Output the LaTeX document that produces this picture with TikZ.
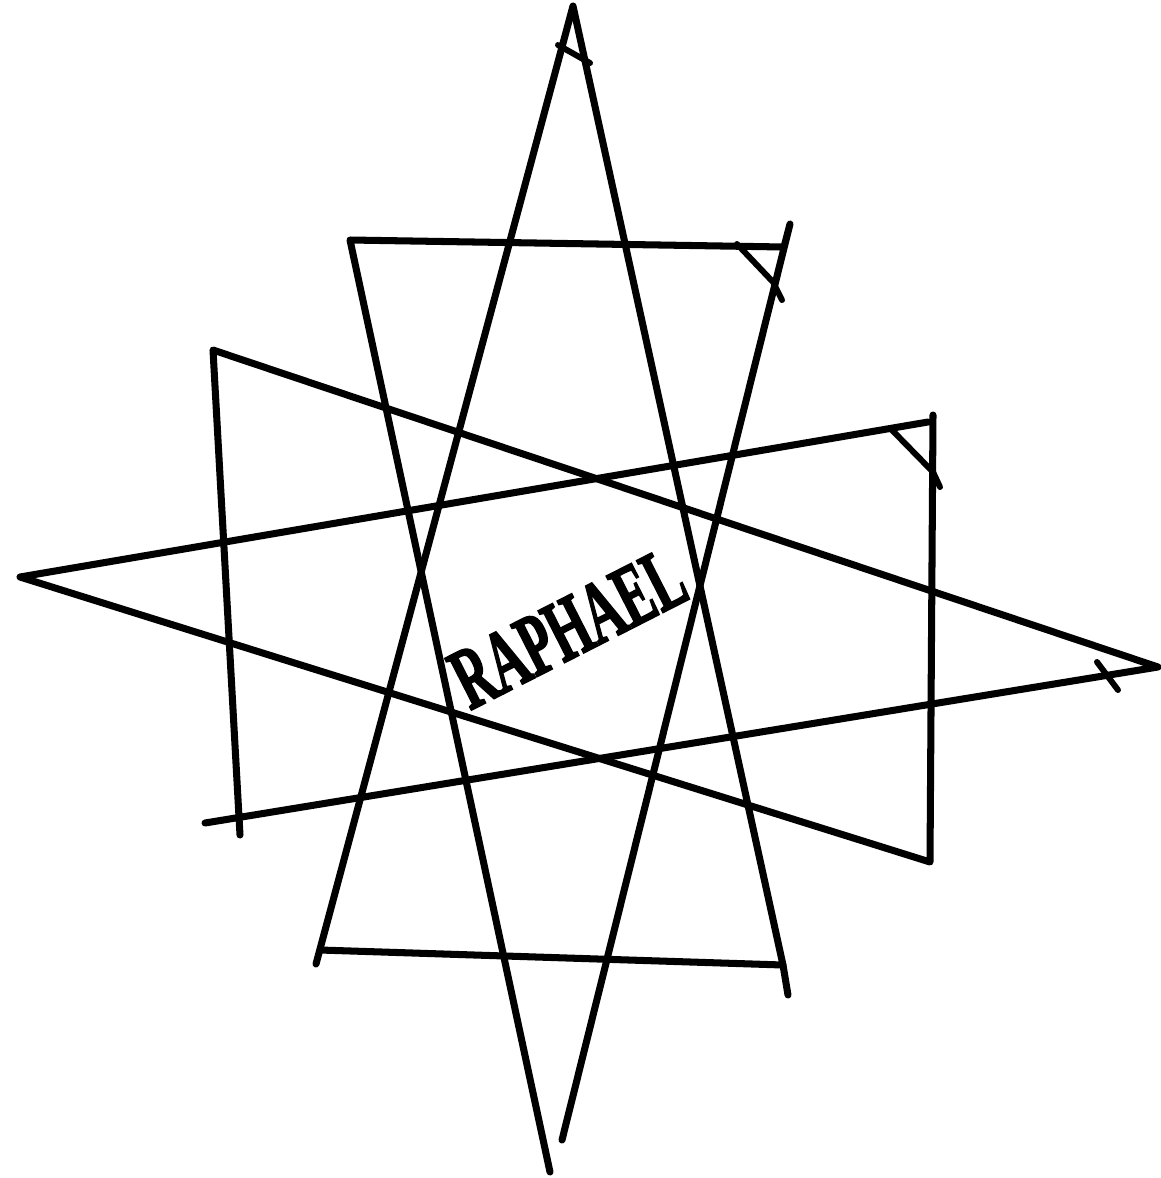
\documentclass[tikz,border=0pt]{standalone}
\usepackage{graphicx}
\usepackage{fontspec}
\newfontfamily\namefont{Liberation Serif}[BoldFeatures={FakeBold=2.5}]

\begin{document}
\begin{tikzpicture}[
    x=0.01cm, y=-0.01cm,
    inkline/.style={draw=black, line width=2pt, line cap=round, line join=round},
    tick/.style={inkline, line width=1.7pt},
    word/.style={font=\namefont\bfseries\fontsize{25}{25}\selectfont, inner sep=0pt}
]
\useasboundingbox (0,0) rectangle (1161,1178);

% corners of the four triangles
\coordinate (upapex)   at (573,6);
\coordinate (upbl)     at (320,950);
\coordinate (upbr)     at (783,965);
\coordinate (dntl)     at (350,240);
\coordinate (dntr)     at (784,247);
\coordinate (dntip)    at (790,224);
\coordinate (dnapex)   at (550,1172);
\coordinate (dnend)    at (562,1140);
\coordinate (ltapex)   at (20,577);
\coordinate (ltup)     at (928,422);
\coordinate (ltvt)     at (933,415);
\coordinate (ltlow)    at (930,862);
\coordinate (rtapex)   at (1158,667);
\coordinate (rttl)     at (213,350);
\coordinate (rtbl)     at (240,835);
\coordinate (rtlow)    at (205,823);

% triangle pointing up
\draw[inkline] (upbl) ++(-4,14) -- (upapex) -- (upbr) -- ++(5,30);
\draw[inkline] (upbl) -- (upbr);
\draw[tick] (558,45) -- (590,63);

% triangle pointing down
\draw[inkline] (dnapex) -- (dntl) -- (dntr) -- (dntip) -- (dnend);
\draw[tick] (737,244) -- (773,282) -- (782,300);

% triangle pointing left
\draw[inkline] (ltvt) -- (ltlow) -- (ltapex) -- (ltup);
\draw[tick] (890,428) -- (933,472) -- (940,487);

% triangle pointing right
\draw[inkline] (rtbl) -- (rttl) -- (rtapex) -- (rtlow);
\draw[tick] (1097,662) -- (1118,690);

% name in the middle
\node[word, rotate=27] (name) at (568,628) {\scalebox{0.58}[1]{RAPHAEL}};
\end{tikzpicture}
\end{document}
